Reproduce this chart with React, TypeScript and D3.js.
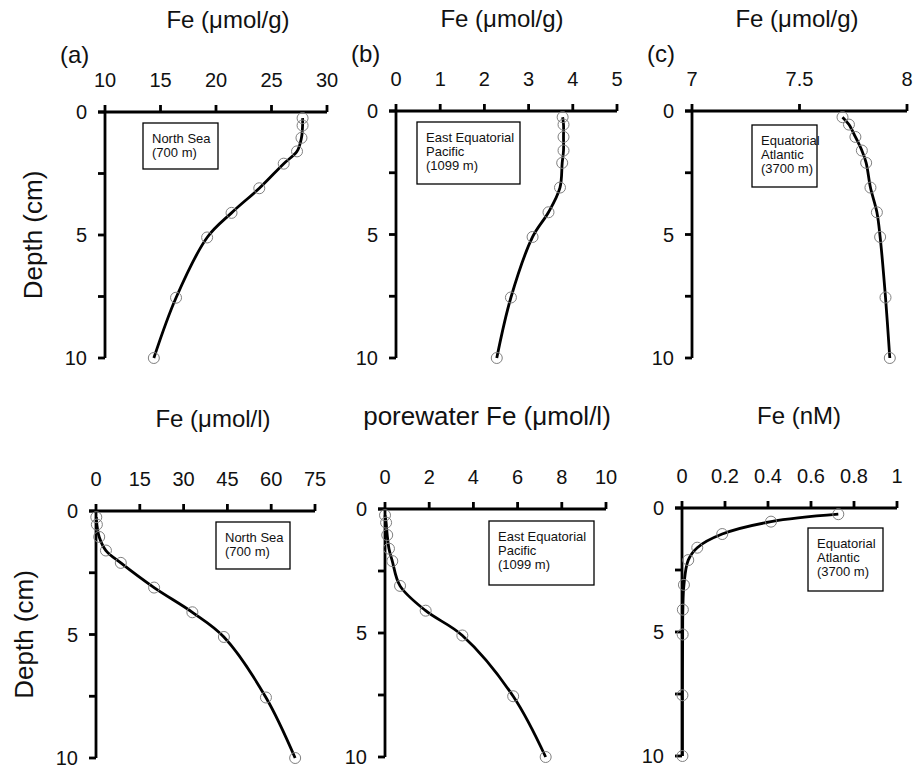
import React from 'react';
import * as d3 from 'd3';

// depth of each sample (cm), shared by all six profiles
const depths = [0.25, 0.55, 1.05, 1.6, 2.1, 3.1, 4.1, 5.1, 7.55, 10];

// solid phase Fe (umol/g)
const solidNorthSea = [27.8, 27.8, 27.7, 27.3, 26.1, 23.9, 21.4, 19.2, 16.4, 14.4];
const solidPacific = [3.77, 3.79, 3.79, 3.79, 3.76, 3.71, 3.45, 3.09, 2.6, 2.28];
const solidAtlantic = [7.7, 7.73, 7.76, 7.79, 7.81, 7.83, 7.86, 7.875, 7.9, 7.92];

// porewater Fe
const poreNorthSea = [0.1, 0.3, 1.1, 3.4, 8.5, 19.9, 33.0, 43.8, 58.2, 68.2];
const porePacific = [0.0, 0.05, 0.1, 0.18, 0.33, 0.68, 1.84, 3.5, 5.8, 7.27];
const poreAtlantic = [0.727, 0.414, 0.187, 0.071, 0.029, 0.009, 0.004, 0.003, 0.002, 0.002];

// tick values
const depthTicks = [0, 2.5, 5, 7.5, 10];
const depthLabels = [0, 5, 10];
const ticksA = [10, 15, 20, 25, 30];
const ticksB = [0, 1, 2, 3, 4, 5];
const ticksC = [7, 7.5, 8];
const ticksD = [0, 15, 30, 45, 60, 75];
const ticksE = [0, 2, 4, 6, 8, 10];
const ticksF = [0, 0.2, 0.4, 0.6, 0.8, 1];

const font = "'Liberation Sans', Arial, sans-serif";

type PanelProps = {
  values: number[];
  xTicks: number[];
  x0: number; x1: number; y0: number; y1: number;
  title: string;
  titleX: number;
  titleSize?: number;
  tag?: string;
  box: string[];
  boxX: number; boxY: number; boxW: number; boxH: number;
  showDepth?: boolean;
};

const Panel = (p: PanelProps) => {
  const x = d3.scaleLinear()
    .domain([p.xTicks[0], p.xTicks[p.xTicks.length - 1]])
    .range([p.x0, p.x1]);
  const y = d3.scaleLinear().domain([0, 10]).range([p.y0, p.y1]);

  const pts: [number, number][] = p.values.map((v, i) => [v, depths[i]]);
  const line = d3.line<[number, number]>()
    .x(d => x(d[0]))
    .y(d => y(d[1]))
    .curve(d3.curveCatmullRom.alpha(0.5));

  const tl = 7;
  const sw = 2.8;
  return (
    <g>
      <text x={p.titleX} y={p.y0 - 84} textAnchor="middle" fontSize={p.titleSize || 24} fill="#111">
        {p.title}
      </text>
      {p.tag && (
        <text x={p.x0 - 45} y={p.y0 - 49} fontSize={24} fill="#111">{p.tag}</text>
      )}
      {/* top axis */}
      <line x1={p.x0 - tl} x2={p.x1} y1={p.y0} y2={p.y0} stroke="#000" strokeWidth={sw} />
      {p.xTicks.map(t => (
        <g key={'xt' + t}>
          <line x1={x(t)} x2={x(t)} y1={p.y0} y2={p.y0 - tl} stroke="#000" strokeWidth={sw} />
          <text x={x(t)} y={p.y0 - 25} textAnchor="middle" fontSize={20} fill="#111">
            {String(t)}
          </text>
        </g>
      ))}
      {/* left axis */}
      <line x1={p.x0} x2={p.x0} y1={p.y0} y2={p.y1} stroke="#000" strokeWidth={sw} />
      {depthTicks.map(t => (
        <line key={'yt' + t} x1={p.x0 - tl} x2={p.x0} y1={y(t)} y2={y(t)} stroke="#000" strokeWidth={sw} />
      ))}
      {depthLabels.map(t => (
        <text key={'yl' + t} x={p.x0 - 18} y={y(t)} dy="0.36em" textAnchor="end" fontSize={20} fill="#111">
          {t}
        </text>
      ))}
      {p.showDepth && (
        <text
          transform={`translate(${p.x0 - 63},${(p.y0 + p.y1) / 2}) rotate(-90)`}
          textAnchor="middle"
          fontSize={26}
          fill="#111"
        >
          Depth (cm)
        </text>
      )}
      {/* site box */}
      <rect x={p.boxX} y={p.boxY} width={p.boxW} height={p.boxH} fill="#fff" stroke="#000" strokeWidth={1.3} />
      {p.box.map((s, i) => (
        <text key={s} x={p.boxX + 9} y={p.boxY + 20 + i * 14} fontSize={13} fill="#111">{s}</text>
      ))}
      {/* profile */}
      <path d={line(pts) || ''} fill="none" stroke="#000" strokeWidth={2.8} />
      {pts.map((d, i) => (
        <circle key={i} cx={x(d[0])} cy={y(d[1])} r={5.5} fill="none" stroke="#808080" strokeWidth={1} />
      ))}
    </g>
  );
};

const App = () => (
  <svg width={914} height={768} style={{ position: 'absolute', left: 0, top: 0, fontFamily: font }}>
    <rect width={914} height={768} fill="#fff" />
    <Panel values={solidNorthSea} xTicks={ticksA} x0={105} x1={327} y0={112} y1={358}
      title="Fe (μmol/g)" titleX={228} tag="(a)" box={['North Sea', '(700 m)']}
      boxX={143} boxY={123} boxW={75} boxH={46} showDepth />
    <Panel values={solidPacific} xTicks={ticksB} x0={396} x1={617} y0={111} y1={358}
      title="Fe (μmol/g)" titleX={502} tag="(b)" box={['East Equatorial', 'Pacific', '(1099 m)']}
      boxX={417} boxY={122} boxW={103} boxH={62} />
    <Panel values={solidAtlantic} xTicks={ticksC} x0={692} x1={907} y0={111} y1={358}
      title="Fe (μmol/g)" titleX={797} tag="(c)" box={['Equatorial', 'Atlantic', '(3700 m)']}
      boxX={752} boxY={125} boxW={65} boxH={62} />
    <Panel values={poreNorthSea} xTicks={ticksD} x0={96} x1={315} y0={511} y1={758}
      title="Fe (μmol/l)" titleX={213} box={['North Sea', '(700 m)']}
      boxX={216} boxY={522} boxW={74} boxH={47} showDepth />
    <Panel values={porePacific} xTicks={ticksE} x0={385} x1={606} y0={509} y1={757}
      title="porewater Fe (μmol/l)" titleX={487} titleSize={26} box={['East Equatorial', 'Pacific', '(1099 m)']}
      boxX={489} boxY={521} boxW={105} boxH={64} />
    <Panel values={poreAtlantic} xTicks={ticksF} x0={682} x1={897} y0={508} y1={756}
      title="Fe (nM)" titleX={799} box={['Equatorial', 'Atlantic', '(3700 m)']}
      boxX={808} boxY={528} boxW={75} boxH={63} />
  </svg>
);

export default App;
